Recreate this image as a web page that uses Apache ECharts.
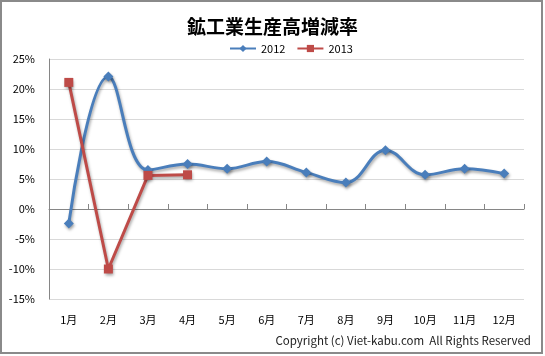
<!DOCTYPE html>
<html>
<head>
<meta charset="utf-8">
<script src="https://cdn.jsdelivr.net/npm/echarts@6/dist/echarts.min.js"></script>
<style>
html,body{margin:0;padding:0;background:#fff;}
#chart{width:545px;height:356px;}
</style>
</head>
<body>
<div id="chart"></div>
<script>
const months = ['1月','2月','3月','4月','5月','6月','7月','8月','9月','10月','11月','12月'];
const values2012 = [-2.4, 22.1, 6.5, 7.5, 6.7, 7.9, 6.1, 4.4, 9.8, 5.7, 6.7, 5.9];
const values2013 = [21.1, -10.0, 5.6, 5.7];
const yTicks = { min: -15, max: 25, interval: 5 };
const titleText = '鉱工業生産高増減率';
const copyrightText = 'Copyright (c) Viet-kabu.com  All Rights Reserved';

const font = '"Noto Sans CJK JP", "Noto Sans", sans-serif';
const chart = echarts.init(document.getElementById('chart'), null, { renderer: 'canvas' });
const shadow = { shadowBlur: 3, shadowColor: 'rgba(0,0,0,0.35)', shadowOffsetX: 1, shadowOffsetY: 2 };

chart.setOption({
  animation: false,
  backgroundColor: '#fff',
  title: {
    text: titleText,
    left: 'center',
    top: 12,
    textStyle: { fontFamily: font, fontSize: 19, fontWeight: 'bold', color: '#000' }
  },
  legend: {
    left: 224,
    top: 38,
    itemWidth: 26,
    itemHeight: 9,
    itemGap: 11,
    textStyle: { fontFamily: font, fontSize: 11, color: '#000' },
    data: ['2012', '2013']
  },
  grid: { left: 49, top: 59, width: 475, height: 240, containLabel: false },
  xAxis: [
    {
      type: 'category',
      data: months,
      position: 'bottom',
      boundaryGap: true,
      axisLine: { show: false, onZero: false },
      axisTick: { show: false },
      axisLabel: { margin: 15, fontFamily: font, fontSize: 11, color: '#000' },
      splitLine: { show: false }
    },
    {
      type: 'category',
      data: months,
      position: 'top',
      boundaryGap: true,
      axisLine: { show: true, onZero: true, lineStyle: { color: '#868686', width: 1 } },
      axisTick: { show: true, inside: false, length: 5, lineStyle: { color: '#868686' } },
      axisLabel: { show: false },
      splitLine: { show: false }
    }
  ],
  yAxis: {
    type: 'value',
    min: yTicks.min,
    max: yTicks.max,
    interval: yTicks.interval,
    axisLine: { show: true, lineStyle: { color: '#868686', width: 1 } },
    axisTick: { show: false },
    axisLabel: { margin: 14, formatter: '{value}%', fontFamily: font, fontSize: 11, color: '#000' },
    splitLine: { show: true, lineStyle: { color: '#d9d9d9', width: 1 } }
  },
  series: [
    {
      name: '2012',
      type: 'line',
      data: values2012,
      smooth: 0.4,
      symbol: 'diamond',
      symbolSize: 10,
      color: '#4a7ebb',
      lineStyle: Object.assign({ width: 3, color: '#4a7ebb' }, shadow),
      itemStyle: Object.assign({ color: '#4a7ebb' }, shadow),
      z: 3
    },
    {
      name: '2013',
      type: 'line',
      data: values2013,
      smooth: false,
      symbol: 'rect',
      symbolSize: 9,
      color: '#be4b48',
      lineStyle: Object.assign({ width: 3, color: '#be4b48' }, shadow),
      itemStyle: Object.assign({ color: '#be4b48' }, shadow),
      z: 4
    }
  ],
  graphic: [
    {
      type: 'rect',
      shape: { x: 1, y: 1, width: 541, height: 352 },
      style: { fill: 'none', stroke: '#8a8a8a', lineWidth: 2 },
      silent: true
    },
    {
      type: 'text',
      right: 14,
      top: 335,
      style: { text: copyrightText, fontFamily: font, fontSize: 11.5, fill: '#222' }
    }
  ]
});
</script>
</body>
</html>
